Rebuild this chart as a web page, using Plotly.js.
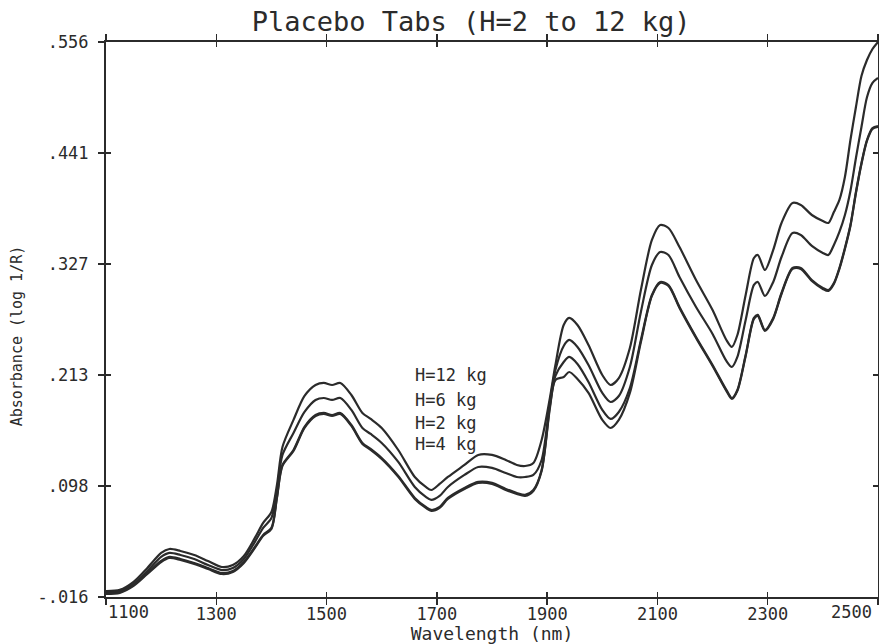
<!DOCTYPE html>
<html>
<head>
<meta charset="utf-8">
<script src="https://cdn.plot.ly/plotly-3.0.1.min.js"></script>
<style>
html,body{margin:0;padding:0;background:#fff;}
#chart{width:879px;height:644px;}
</style>
</head>
<body>
<div id="chart"></div>
<script>
const wavelength = [1100,1125,1150,1175,1200,1215,1235,1260,1285,1310,
  1330,1350,1370,1385,1400,1410,1420,1440,1460,1480,
  1495,1510,1525,1545,1565,1580,1600,1630,1660,1680,
  1690,1705,1720,1750,1775,1800,1825,1845,1860,1875,
  1890,1905,1915,1930,1940,1955,1975,2000,2015,2030,
  2050,2070,2090,2105,2120,2140,2170,2200,2225,2235,
  2245,2260,2275,2282,2295,2310,2325,2345,2360,2380,
  2400,2410,2420,2430,2440,2450,2460,2470,2480,2490,2500];

const absH12 = [-0.0098,-0.0087,-0.0005,0.0139,0.0294,0.0335,0.0314,0.0273,0.0211,0.0149,
  0.0170,0.0263,0.0449,0.0603,0.0716,0.0995,0.1386,0.1665,0.1912,0.2025,
  0.2046,0.2025,0.2046,0.1922,0.1737,0.1675,0.1582,0.1355,0.1077,0.0974,
  0.0943,0.1005,0.1077,0.1201,0.1304,0.1304,0.1252,0.1201,0.1190,0.1221,
  0.1458,0.1891,0.2231,0.2643,0.2716,0.2643,0.2437,0.2128,0.2025,0.2097,
  0.2406,0.3004,0.3520,0.3674,0.3643,0.3447,0.3107,0.2798,0.2489,0.2417,
  0.2540,0.2953,0.3334,0.3365,0.3210,0.3417,0.3695,0.3901,0.3880,0.3777,
  0.3715,0.3695,0.3808,0.3932,0.4169,0.4550,0.4890,0.5210,0.5375,0.5488,0.5560];

const absH6 = [-0.0108,-0.0098,-0.0025,0.0108,0.0253,0.0294,0.0273,0.0232,0.0170,0.0118,
  0.0139,0.0232,0.0408,0.0552,0.0655,0.0943,0.1304,0.1531,0.1747,0.1871,
  0.1891,0.1871,0.1891,0.1768,0.1582,0.1520,0.1428,0.1232,0.0974,0.0871,
  0.0840,0.0881,0.0974,0.1098,0.1180,0.1170,0.1118,0.1077,0.1077,0.1098,
  0.1252,0.1850,0.2180,0.2427,0.2489,0.2417,0.2231,0.1943,0.1850,0.1912,
  0.2211,0.2778,0.3262,0.3396,0.3365,0.3138,0.2829,0.2551,0.2273,0.2211,
  0.2314,0.2695,0.3056,0.3087,0.2942,0.3087,0.3344,0.3592,0.3571,0.3458,
  0.3386,0.3365,0.3468,0.3602,0.3777,0.4025,0.4365,0.4684,0.4990,0.5138,0.5189];

const absH2 = [-0.0118,-0.0108,-0.0036,0.0087,0.0211,0.0253,0.0232,0.0191,0.0139,0.0087,
  0.0108,0.0201,0.0356,0.0480,0.0552,0.0871,0.1201,0.1355,0.1593,0.1716,
  0.1737,0.1716,0.1737,0.1613,0.1428,0.1366,0.1273,0.1088,0.0861,0.0768,
  0.0737,0.0768,0.0861,0.0964,0.1026,0.1016,0.0954,0.0912,0.0892,0.0943,
  0.1149,0.1809,0.2118,0.2262,0.2314,0.2242,0.2056,0.1768,0.1675,0.1747,
  0.1994,0.2489,0.2953,0.3087,0.3056,0.2829,0.2520,0.2231,0.1974,0.1891,
  0.1974,0.2334,0.2716,0.2747,0.2592,0.2716,0.2973,0.3231,0.3231,0.3107,
  0.3025,0.3004,0.3076,0.3231,0.3437,0.3674,0.4014,0.4313,0.4550,0.4673,0.4694];

const absH4 = [-0.0128,-0.0118,-0.0046,0.0077,0.0201,0.0243,0.0222,0.0181,0.0129,0.0077,
  0.0098,0.0191,0.0346,0.0470,0.0542,0.0861,0.1191,0.1345,0.1583,0.1706,
  0.1727,0.1706,0.1727,0.1603,0.1418,0.1356,0.1263,0.1078,0.0851,0.0758,
  0.0727,0.0758,0.0851,0.0954,0.1016,0.1006,0.0944,0.0902,0.0882,0.0933,
  0.1139,0.1788,0.2077,0.2108,0.2159,0.2087,0.1943,0.1665,0.1582,0.1665,
  0.1943,0.2468,0.2943,0.3077,0.3046,0.2819,0.2510,0.2221,0.1964,0.1881,
  0.1964,0.2324,0.2706,0.2737,0.2582,0.2706,0.2963,0.3221,0.3221,0.3097,
  0.3015,0.2994,0.3066,0.3221,0.3427,0.3664,0.4004,0.4303,0.4540,0.4663,0.4684];

const seriesNames = ['H=12 kg','H=6 kg','H=2 kg','H=4 kg'];
const labelX = [1657,1657,1657,1657];
const labelY = [0.2128,0.1871,0.1634,0.1417];

const xTickVals = [1100,1300,1500,1700,1900,2100,2300,2500];
const xTickLabels = ['1100','1300','1500','1700','1900','2100','2300','2500'];
const yTickVals = [-0.016,0.0984,0.2128,0.3272,0.4416,0.556];
const yTickLabels = ['-.016','.098','.213','.327','.441','.556'];

const FONT = '"DejaVu Sans Mono", "Liberation Mono", monospace';
const INK = '#2b2b2b';

const seriesY = [absH12, absH6, absH2, absH4];
const traces = seriesY.map((ys, i) => ({
  type: 'scatter', mode: 'lines', x: wavelength, y: ys, name: seriesNames[i],
  line: {color: INK, width: 2.2, shape: 'spline', smoothing: 0.8},
  hoverinfo: 'skip', showlegend: false
}));
// overlay trace so the crossing-tick axes exist
traces.push({type:'scatter', mode:'lines', x: wavelength.slice(0,1), y: absH12.slice(0,1),
  xaxis:'x2', yaxis:'y2', line:{color:'rgba(0,0,0,0)'}, hoverinfo:'skip', showlegend:false});

const edgeIdx = [0, xTickLabels.length-1];
const xTickText = xTickLabels.map((t,i) => edgeIdx.includes(i) ? '' : t);

const annotations = seriesNames.map((n,i) => ({
  x: labelX[i], y: labelY[i], xref:'x', yref:'y', text: n, showarrow:false,
  xanchor:'left', yanchor:'middle', font:{family:FONT, size:17, color:INK}
}));
annotations.push({x: xTickVals[0], y: 0, xref:'x', yref:'paper', text: xTickLabels[0],
  showarrow:false, xanchor:'left', yanchor:'top', yshift:-3, font:{family:FONT,size:17,color:INK}});
annotations.push({x: xTickVals[xTickVals.length-1], y: 0, xref:'x', yref:'paper', text: xTickLabels[xTickLabels.length-1],
  showarrow:false, xanchor:'right', yanchor:'top', yshift:-3, xshift:-4, font:{family:FONT,size:17,color:INK}});
annotations.push({x: -0.115, y: 0.47, xref:'paper', yref:'paper', text:'Absorbance (log 1/R)',
  textangle:-90, showarrow:false, xanchor:'center', yanchor:'middle', font:{family:FONT,size:15,color:INK}});

const axisCommon = {
  showgrid:false, zeroline:false, showline:true, linecolor:INK, linewidth:2,
  mirror:'allticks', ticks:'outside', ticklen:6, tickwidth:1.5, tickcolor:INK,
  tickfont:{family:FONT, size:17, color:INK}
};

const layout = {
  width: 879, height: 644,
  margin: {l:106, r:1, t:42, b:47},
  paper_bgcolor:'#fff', plot_bgcolor:'#fff',
  title: {text:'Placebo Tabs (H=2 to 12 kg)', x:0.473, xref:'paper', xanchor:'center',
    y: 0.966, yref:'container', yanchor:'middle', font:{family:FONT, size:27, color:INK}},
  xaxis: Object.assign({}, axisCommon, {
    range:[1100,2500], tickmode:'array', tickvals:xTickVals, ticktext:xTickText,
    ticklabelstandoff: -5,
    title:{text:'Wavelength (nm)', font:{family:FONT,size:18,color:INK}, standoff:0}
  }),
  yaxis: Object.assign({}, axisCommon, {
    range:[-0.016,0.556], tickmode:'array', tickvals:yTickVals, ticktext:yTickLabels,
    ticklabelstandoff: 6
  }),
  xaxis2: {overlaying:'x', anchor:'y2', range:[1100,2500], tickmode:'array', tickvals:xTickVals,
    showticklabels:false, showline:false, showgrid:false, zeroline:false,
    ticks:'inside', ticklen:5, tickwidth:1.5, tickcolor:INK, mirror:'allticks'},
  yaxis2: {overlaying:'y', anchor:'x2', range:[-0.016,0.556], tickmode:'array', tickvals:yTickVals,
    showticklabels:false, showline:false, showgrid:false, zeroline:false,
    ticks:'inside', ticklen:5, tickwidth:1.5, tickcolor:INK, mirror:'allticks'},
  annotations: annotations,
  showlegend:false
};

Plotly.newPlot('chart', traces, layout, {staticPlot:true, displayModeBar:false});
</script>
</body>
</html>
